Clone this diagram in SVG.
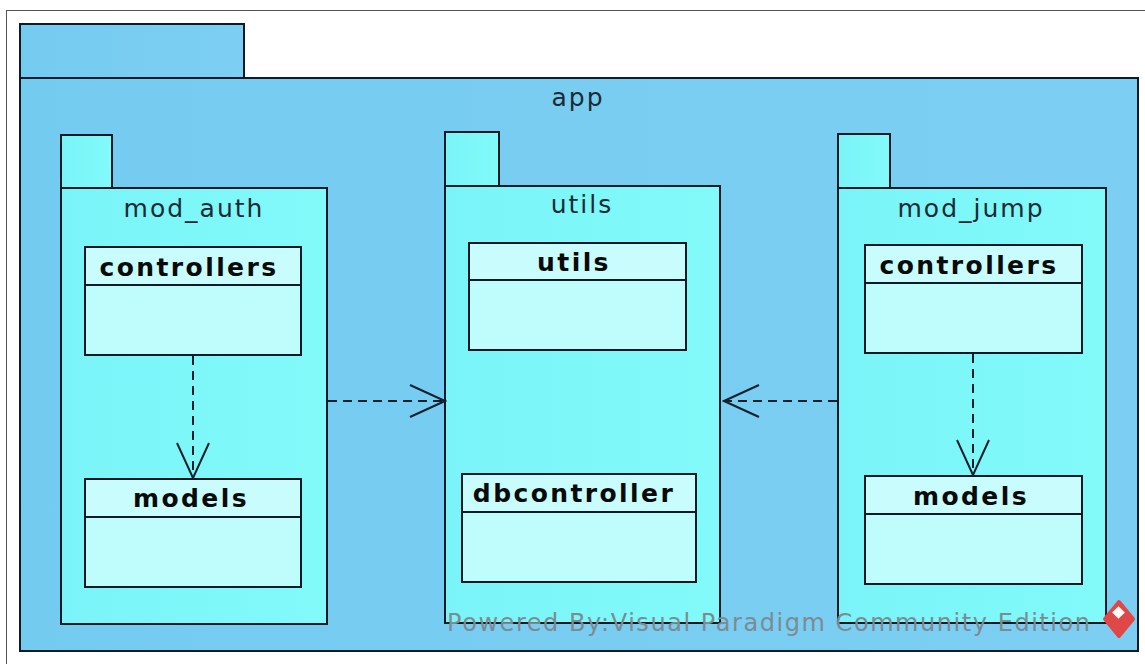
<svg xmlns="http://www.w3.org/2000/svg" width="1145" height="664" viewBox="0 0 1145 664">
  <defs>
    <linearGradient id="appFill" x1="0" y1="0" x2="1" y2="0">
      <stop offset="0" stop-color="#74CBF0"/>
      <stop offset="1" stop-color="#7CCFF2"/>
    </linearGradient>
    <linearGradient id="pkgFill" x1="0" y1="0" x2="1" y2="0">
      <stop offset="0" stop-color="#7AF4F8"/>
      <stop offset="1" stop-color="#82FAFA"/>
    </linearGradient>
    <marker id="openArrow" viewBox="-36 -17 38 34" refX="0" refY="0" markerWidth="38" markerHeight="34" markerUnits="userSpaceOnUse" orient="auto">
      <path d="M-35,-16 L0,0 L-35,16" fill="none" stroke="#14202c" stroke-width="2"/>
    </marker>
  </defs>
  <style>
    .frame { fill: none; stroke: #555; stroke-width: 1; }
    .app { fill: url(#appFill); stroke: #101a24; stroke-width: 2; }
    .pkg { fill: url(#pkgFill); stroke: #101a24; stroke-width: 2; }
    .cls { fill: #BFFCFC; stroke: #101a24; stroke-width: 2; }
    .clsHead { fill: #C9FDFD; stroke: #101a24; stroke-width: 2; }
    .pkgName { font-family: "DejaVu Sans", Verdana, sans-serif; font-size: 25px; letter-spacing: 2px; fill: #1c2a34; text-anchor: middle; }
    .clsName { font-family: "DejaVu Sans", Verdana, sans-serif; font-size: 25px; font-weight: bold; letter-spacing: 2.4px; fill: #0a0a0a; text-anchor: middle; }
    .dep { fill: none; stroke: #14202c; stroke-width: 2; stroke-dasharray: 9 6; marker-end: url(#openArrow); }
    .mark { font-family: "DejaVu Sans", Verdana, sans-serif; font-size: 24px; fill: #7d8b92; }
  </style>

  <rect class="frame" x="6.5" y="10.5" width="1150" height="670"/>

  <!-- top-level package -->
  <g id="app">
    <rect class="app" x="20" y="24" width="224" height="54"/>
    <rect class="app" x="20" y="78" width="1118" height="573"/>
    <text class="pkgName" x="578" y="106">app</text>
  </g>

  <g id="mod_auth">
    <rect class="pkg" x="61" y="135" width="51" height="53"/>
    <rect class="pkg" x="61" y="188" width="266" height="436"/>
    <text class="pkgName" x="194" y="217">mod_auth</text>
  </g>
  <g id="mod_auth_controllers">
    <rect class="cls" x="85" y="247" width="216" height="108"/>
    <rect class="clsHead" x="85" y="247" width="216" height="38"/>
    <text class="clsName" x="189" y="276">controllers</text>
  </g>
  <g id="mod_auth_models">
    <rect class="cls" x="85" y="479" width="216" height="108"/>
    <rect class="clsHead" x="85" y="479" width="216" height="38"/>
    <text class="clsName" x="191" y="507">models</text>
  </g>

  <g id="utils_pkg">
    <rect class="pkg" x="445" y="132" width="54" height="54"/>
    <rect class="pkg" x="445" y="186" width="275" height="437"/>
    <text class="pkgName" x="582" y="213">utils</text>
  </g>
  <g id="utils_cls">
    <rect class="cls" x="469" y="243" width="217" height="107"/>
    <rect class="clsHead" x="469" y="243" width="217" height="37"/>
    <text class="clsName" x="574" y="271">utils</text>
  </g>
  <g id="dbcontroller">
    <rect class="cls" x="462" y="474" width="234" height="108"/>
    <rect class="clsHead" x="462" y="474" width="234" height="38"/>
    <text class="clsName" x="574" y="502">dbcontroller</text>
  </g>

  <g id="mod_jump">
    <rect class="pkg" x="838" y="134" width="52" height="54"/>
    <rect class="pkg" x="838" y="188" width="268" height="435"/>
    <text class="pkgName" x="971" y="217">mod_jump</text>
  </g>
  <g id="mod_jump_controllers">
    <rect class="cls" x="865" y="245" width="217" height="108"/>
    <rect class="clsHead" x="865" y="245" width="217" height="38"/>
    <text class="clsName" x="969" y="274">controllers</text>
  </g>
  <g id="mod_jump_models">
    <rect class="cls" x="865" y="476" width="217" height="108"/>
    <rect class="clsHead" x="865" y="476" width="217" height="38"/>
    <text class="clsName" x="971" y="505">models</text>
  </g>

  <!-- dependencies -->
  <g id="connectors">
    <line class="dep" x1="193" y1="356" x2="193" y2="478"/>
    <line class="dep" x1="973" y1="354" x2="973" y2="475"/>
    <line class="dep" x1="328" y1="401" x2="445" y2="401"/>
    <line class="dep" x1="837" y1="401" x2="724" y2="401"/>
  </g>

  <!-- edition stamp -->
  <g id="stamp">
    <text class="mark" x="447" y="631" textLength="643" lengthAdjust="spacing">Powered By:Visual Paradigm Community Edition</text>
    <path d="M1119,602 L1133,619 L1119,636 L1105,619 Z" fill="#e04848" stroke="#e04848" stroke-width="4" stroke-linejoin="round"/>
    <rect x="1114" y="608" width="9" height="9" fill="#fff" transform="rotate(45 1118.5 612.5)"/>
  </g>
</svg>
